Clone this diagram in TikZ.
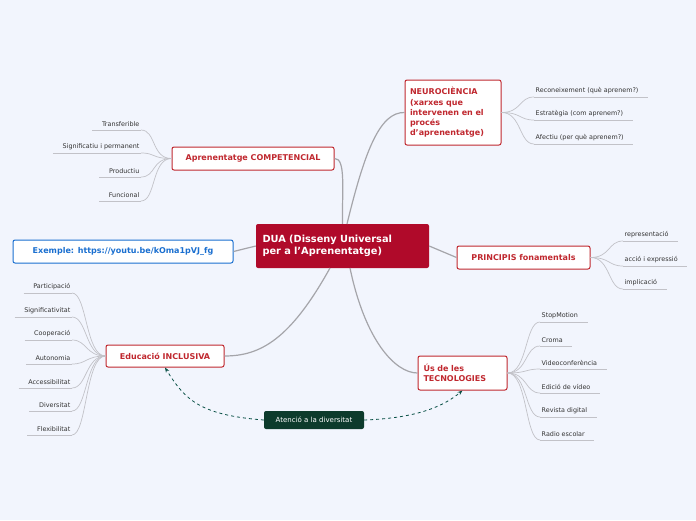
\documentclass[tikz,border=0pt]{standalone}
\usepackage{fontspec}
\setmainfont{DejaVu Sans}
\usetikzlibrary{arrows.meta}
\definecolor{bg}{HTML}{F2F5FD}
\definecolor{crim}{HTML}{B00A2A}
\definecolor{redt}{HTML}{C0282F}
\definecolor{blu}{HTML}{1A6FD0}
\definecolor{grn}{HTML}{0D3B2C}
\definecolor{lnk}{HTML}{C2C2C8}
\newcommand{\ap}{\char"27\relax}
\tikzset{
 topic/.style={draw=redt,line width=1pt,fill=white,rounded corners=2pt,text=redt,font=\fontsize{8}{9.5}\selectfont\bfseries,inner sep=0pt},
 leaf/.style={font=\fontsize{6.4}{7}\selectfont,text=black!80,inner sep=1.5pt,inner ysep=3pt},
 lline/.style={draw=lnk,line width=0.7pt},
 conn/.style={draw=lnk!85!black,line width=1.2pt},
 dashconn/.style={draw=grn!70!teal,dashed,line width=0.8pt,-{Stealth[length=5pt]}},
}
\begin{document}
\begin{tikzpicture}[x=1pt,y=-1pt]
\fill[bg] (0,0) rectangle (696,520);
\useasboundingbox (0,0) rectangle (696,520);
\node[fill=crim,rounded corners=2pt,minimum width=173pt,minimum height=44pt,text width=160pt,align=left,text=white,font=\fontsize{9.8}{12}\selectfont\bfseries] (c) at (342.5,246) {DUA (Disseny Universal\\per a l\ap Aprenentatge)};
\node[topic,minimum width=162pt,minimum height=23pt] (comp) at (253,158.5) {Aprenentatge COMPETENCIAL};
\node[topic,minimum width=96pt,minimum height=65pt,text width=86pt,align=left,font=\fontsize{8}{10.2}\selectfont\bfseries] (neu) at (453,112.5) {NEUROCIÈNCIA\\(xarxes que\\intervenen en el\\procés\\d\ap aprenentatge)};
\node[topic,minimum width=133pt,minimum height=23pt] (pri) at (523.5,257.5) {PRINCIPIS fonamentals};
\node[topic,minimum width=89pt,minimum height=34pt,text width=78pt,align=left] (tec) at (462.5,373) {Ús de les\\TECNOLOGIES};
\node[topic,minimum width=118pt,minimum height=22pt] (inc) at (165,356) {Educació INCLUSIVA};
\node[draw=blu,line width=1pt,fill=white,rounded corners=2pt,text=blu,font=\fontsize{8}{9}\selectfont\bfseries,minimum width=220pt,minimum height=23pt] (ex) at (123,251.5) {Exemple: https://youtu.be/kOma1pVJ\_fg};
\node[fill=grn,rounded corners=2pt,text=white,font=\fontsize{7}{8}\selectfont,minimum width=100pt,minimum height=18pt] (at) at (314,420) {Atenció a la diversitat};
\draw[conn] (c.north) .. controls (342,190) and (346,158) .. (comp.east);
\draw[conn] (347,224) .. controls (365,150) and (380,112) .. (neu.west);
\draw[conn] (c.east) -- (pri.west);
\draw[conn] (350,268) .. controls (365,340) and (395,373) .. (tec.west);
\draw[conn] (330,268) .. controls (290,340) and (260,356) .. (inc.east);
\draw[conn] (c.west) -- (ex.east);
\draw[dashconn] (at.west) .. controls (200,415) and (185,400) .. (inc.south);
\draw[dashconn] (at.east) .. controls (420,418) and (445,405) .. (tec.south);
\foreach \p/\x/\list in {neu/534/{97/Reconeixement (què aprenem?),120/Estratègia (com aprenem?),144/Afectiu (per què aprenem?)},
 pri/623/{241/representació,266/acció i expressió,289/implicació},
 tec/540/{322/StopMotion,346/Croma,369/Videoconferència,393/Edició de vídeo,417/Revista digital,440/Radio escolar}}{
 \foreach \yy/\t [count=\i] in \list {
  \node[leaf,anchor=south west] (\p r\i) at (\x,\yy) {\t};
  \draw[lline] (\p r\i.south west) -- ([xshift=8pt]\p r\i.south east);
  \draw[lline] (\p.east) .. controls +(20,0) and +(-15,0) .. (\p r\i.south west);
 }}
\foreach \p/\x/\list in {comp/141/{130/Transferible,153/Significatiu i permanent,177/Productiu,201/Funcional},
 inc/72/{293/Participació,317/Significativitat,340/Cooperació,364/Autonomia,388/Accessibilitat,411/Diversitat,435/Flexibilitat}}{
 \foreach \yy/\t [count=\i] in \list {
  \node[leaf,anchor=south east] (\p l\i) at (\x,\yy) {\t};
  \draw[lline] ([xshift=-8pt]\p l\i.south west) -- (\p l\i.south east);
  \draw[lline] (\p.west) .. controls +(-20,0) and +(15,0) .. (\p l\i.south east);
 }}
\end{tikzpicture}
\end{document}
